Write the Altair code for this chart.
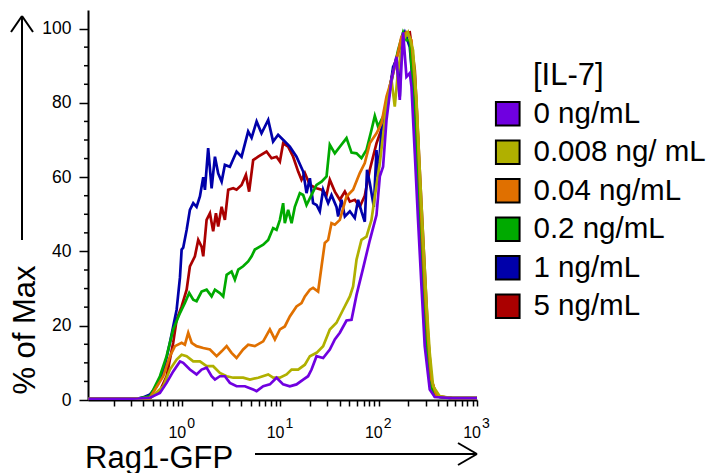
import altair as alt
import pandas as pd

SERIES = ["0 ng/mL", "0.008 ng/ mL", "0.04 ng/mL", "0.2 ng/mL", "1 ng/mL", "5 ng/mL"]
COLORS = ["#7000E0", "#B0B000", "#E07000", "#00AA00", "#0000AA", "#AA0000"]
DRAW_ORDER = ["5 ng/mL", "1 ng/mL", "0.2 ng/mL", "0.04 ng/mL", "0.008 ng/ mL", "0 ng/mL"]

# log10(Rag1-GFP) and % of max for each series
L_0 = [-0.955, -0.6, -0.45, -0.328, -0.227, -0.159, -0.092, -0.023, 0.010, 0.078, 0.146, 0.197, 0.248, 0.299, 0.333,
       0.383, 0.434, 0.485, 0.553, 0.638, 0.722, 0.757, 0.824, 0.892, 0.960, 1.027, 1.095, 1.163, 1.231, 1.281, 1.316,
       1.367, 1.434, 1.502, 1.553, 1.604, 1.672, 1.723, 1.774, 1.841, 1.909, 1.977, 2.011, 2.044, 2.079, 2.130, 2.180,
       2.214, 2.248, 2.282, 2.316, 2.333, 2.367, 2.400, 2.435, 2.468, 2.519, 2.570, 2.75, 3.0]
P_0 = [0.3, 0.3, 0.4, 0.6, 1.9, 4.6, 7.7, 10.4, 10.0, 8.2, 6.9, 8.2, 8.7, 6.4, 5.5,
       6.4, 6.4, 4.6, 3.7, 3.7, 2.8, 2.4, 3.7, 4.2, 6.0, 4.2, 3.7, 4.2, 5.5, 6.4, 8.2,
       11.8, 11.3, 13.6, 16.3, 18.1, 21.4, 21.6, 28.3, 35.5, 43.0, 49.8, 60.2, 62.8, 75.4, 86.2, 92.4,
       80.8, 99.0, 87.0, 88.0, 84.4, 66.4, 48.5, 30.6, 14.5, 2.8, 0.8, 0.5, 0.5]

L_0008 = [-0.955, -0.6, -0.45, -0.328, -0.193, -0.125, -0.057, -0.006, 0.045, 0.112, 0.180, 0.248, 0.315, 0.383,
          0.452, 0.519, 0.620, 0.689, 0.773, 0.875, 0.925, 0.994, 1.062, 1.113, 1.180, 1.248, 1.299, 1.367, 1.434,
          1.502, 1.570, 1.637, 1.706, 1.739, 1.774, 1.824, 1.875, 1.926, 1.960, 2.011, 2.079, 2.130, 2.163, 2.197,
          2.248, 2.298, 2.349, 2.384, 2.417, 2.451, 2.486, 2.519, 2.553, 2.621, 2.75, 3.0]
P_0008 = [0.3, 0.3, 0.4, 0.5, 3.7, 8.2, 10.9, 12.2, 11.8, 10.4, 10.4, 9.1, 9.1, 7.3,
          6.4, 6.0, 6.0, 5.5, 6.0, 6.9, 6.0, 6.0, 6.9, 8.2, 8.2, 9.5, 11.8, 12.7, 14.5,
          19.0, 20.8, 24.3, 27.9, 30.6, 37.8, 43.1, 44.0, 48.5, 54.8, 63.8, 79.0, 86.2, 79.0, 88.8,
          96.9, 99.0, 94.2, 80.8, 62.0, 44.0, 26.1, 12.7, 3.7, 1.0, 0.5, 0.5]

L_004 = [-0.955, -0.6, -0.45, -0.328, -0.193, -0.125, -0.074, -0.006, 0.027, 0.061, 0.096, 0.146, 0.214, 0.282,
         0.350, 0.401, 0.452, 0.502, 0.553, 0.620, 0.671, 0.739, 0.824, 0.892, 0.943, 0.994, 1.044, 1.095, 1.163,
         1.214, 1.248, 1.299, 1.332, 1.383, 1.418, 1.451, 1.485, 1.519, 1.553, 1.604, 1.672, 1.739, 1.807, 1.858,
         1.909, 1.977, 2.028, 2.079, 2.130, 2.180, 2.231, 2.282, 2.333, 2.384, 2.435, 2.468, 2.502, 2.536, 2.590,
         2.75, 3.0]
P_004 = [0.3, 0.3, 0.4, 0.6, 6.4, 11.8, 14.5, 15.4, 14.9, 18.1, 15.4, 14.5, 14.0, 13.6,
         11.8, 13.1, 14.5, 12.7, 11.3, 13.6, 14.9, 14.5, 15.8, 19.0, 16.3, 19.0, 19.8, 22.5, 25.2,
         26.1, 27.9, 29.7, 30.2, 29.2, 36.0, 42.3, 43.1, 47.6, 47.2, 48.5, 54.8, 56.6, 61.1, 63.8,
         69.1, 71.8, 74.5, 81.7, 86.2, 91.5, 97.8, 99.0, 96.9, 79.9, 48.5, 30.6, 16.3, 5.5, 1.0,
         0.5, 0.5]

L_02 = [-0.955, -0.6, -0.45, -0.328, -0.227, -0.159, -0.092, -0.023, 0.027, 0.071, 0.112, 0.146, 0.197, 0.248,
        0.299, 0.333, 0.383, 0.417, 0.452, 0.502, 0.536, 0.570, 0.620, 0.671, 0.706, 0.739, 0.790, 0.824, 0.875,
        0.925, 0.960, 0.994, 1.027, 1.044, 1.078, 1.113, 1.146, 1.197, 1.231, 1.265, 1.316, 1.367, 1.418, 1.469,
        1.502, 1.553, 1.604, 1.672, 1.723, 1.774, 1.824, 1.875, 1.926, 1.960, 1.993, 2.044, 2.095, 2.146, 2.197,
        2.248, 2.282, 2.316, 2.349, 2.384, 2.417, 2.451, 2.486, 2.519, 2.570, 2.75, 3.0]
P_02 = [0.3, 0.3, 0.4, 1.0, 6.4, 11.8, 19.0, 23.4, 26.1, 28.8, 27.0, 26.6, 29.2, 29.7,
        27.9, 29.7, 28.8, 27.9, 33.7, 34.6, 32.4, 35.1, 36.0, 37.3, 38.7, 40.5, 41.3, 41.8, 43.1,
        46.3, 45.8, 48.5, 53.0, 47.6, 51.2, 47.6, 52.0, 55.7, 55.2, 52.5, 55.2, 57.9, 58.8, 60.2,
        68.7, 66.4, 68.2, 70.5, 66.6, 66.4, 65.1, 67.3, 72.7, 76.5, 73.6, 76.3, 80.8, 88.0, 94.2,
        99.0, 96.9, 96.9, 84.0, 66.0, 48.0, 30.0, 14.0, 5.0, 1.0, 0.5, 0.5]

L_1 = [-0.955, -0.6, -0.45, -0.400, -0.328, -0.260, -0.193, -0.125, -0.092, -0.057, -0.023, -0.006, 0.010, 0.045,
       0.078, 0.112, 0.146, 0.180, 0.214, 0.231, 0.264, 0.299, 0.333, 0.366, 0.401, 0.434, 0.485, 0.553, 0.604,
       0.671, 0.706, 0.757, 0.807, 0.875, 0.925, 0.976, 1.044, 1.095, 1.163, 1.231, 1.265, 1.299, 1.332, 1.367,
       1.400, 1.434, 1.485, 1.519, 1.570, 1.587, 1.621, 1.655, 1.706, 1.756, 1.790, 1.824, 1.858, 1.881, 1.909,
       1.950, 1.977, 1.993, 2.028, 2.079, 2.146, 2.180, 2.214, 2.231, 2.265, 2.316, 2.349, 2.384, 2.417, 2.451,
       2.486, 2.519, 2.570, 2.621, 2.75, 3.0]
P_1 = [0.3, 0.3, 0.4, 0.7, 1.5, 3.7, 7.4, 15.5, 19.8, 24.3, 33.0, 40.5, 41.0, 45.8,
       51.2, 53.0, 52.0, 54.8, 60.0, 56.6, 67.8, 57.0, 65.5, 61.0, 58.8, 63.3, 62.8, 66.9, 65.5,
       72.3, 70.6, 75.0, 71.8, 75.4, 69.6, 71.4, 69.6, 68.2, 65.5, 61.5, 55.7, 59.7, 53.0, 52.5,
       50.8, 56.6, 53.0, 55.2, 52.0, 49.4, 53.9, 49.4, 50.8, 49.0, 53.9, 50.8, 48.0, 62.0, 58.4,
       52.0, 67.3, 60.0, 72.7, 77.2, 89.7, 91.5, 81.7, 96.9, 99.0, 95.0, 84.4, 66.4, 48.5, 30.6,
       14.5, 5.5, 1.5, 0.8, 0.5, 0.5]

L_5 = [-0.955, -0.6, -0.45, -0.328, -0.227, -0.159, -0.092, -0.057, -0.006, 0.045, 0.078, 0.129, 0.163, 0.197,
       0.214, 0.248, 0.282, 0.315, 0.343, 0.366, 0.401, 0.434, 0.468, 0.519, 0.553, 0.604, 0.648, 0.681, 0.722,
       0.773, 0.858, 0.909, 0.960, 0.994, 1.027, 1.078, 1.129, 1.180, 1.214, 1.248, 1.299, 1.367, 1.418, 1.469,
       1.502, 1.553, 1.604, 1.655, 1.706, 1.756, 1.807, 1.858, 1.909, 1.977, 2.061, 2.112, 2.163, 2.214, 2.265,
       2.316, 2.367, 2.417, 2.468, 2.502, 2.536, 2.590, 2.75, 3.0]
P_5 = [0.3, 0.3, 0.4, 0.5, 2.5, 6.4, 15.4, 21.6, 25.2, 29.7, 36.0, 38.7, 43.1, 41.3,
       38.7, 48.5, 50.3, 45.4, 50.3, 46.7, 52.0, 48.5, 56.6, 57.0, 56.6, 57.9, 60.6, 56.1, 64.6,
       65.5, 66.9, 65.1, 65.5, 64.2, 69.1, 68.2, 65.5, 61.5, 59.3, 61.1, 57.9, 57.0, 56.6, 55.2,
       59.3, 56.1, 53.9, 56.1, 53.4, 53.9, 52.0, 55.0, 62.0, 69.1, 75.4, 84.4, 90.6, 95.0, 98.7,
       99.0, 88.8, 62.0, 35.1, 17.2, 5.5, 1.0, 0.5, 0.5]

Y_MAJOR = [0, 20, 40, 60, 80, 100]
Y_MINOR = [5, 10, 15, 25, 30, 35, 45, 50, 55, 65, 70, 75, 85, 90, 95]
X_TICKS = [0.2, 0.3, 0.4, 0.5, 0.6, 0.7, 0.8, 0.9, 1, 2, 3, 4, 5, 6, 7, 8, 9, 10, 20, 30, 40, 50, 60, 70, 80, 90,
           100, 200, 300, 400, 500, 600, 700, 800, 900, 1000]
DECADES = [1, 10, 100, 1000]
EXPONENTS = ["0", "1", "2", "3"]

curves = {
    "0 ng/mL": (L_0, P_0),
    "0.008 ng/ mL": (L_0008, P_0008),
    "0.04 ng/mL": (L_004, P_004),
    "0.2 ng/mL": (L_02, P_02),
    "1 ng/mL": (L_1, P_1),
    "5 ng/mL": (L_5, P_5),
}
color_of = dict(zip(SERIES, COLORS))

frames = []
for name in DRAW_ORDER:
    L, P = curves[name]
    d = pd.DataFrame({"logx": L, "pct": P})
    d["gfp"] = 10 ** d["logx"]
    d["series"] = name
    d["hex"] = color_of[name]
    frames.append(d)
df = pd.concat(frames, ignore_index=True)

FONT = "Liberation Sans"
XMIN = 10 ** -0.959

x_scale = alt.Scale(type="log", domain=[XMIN, 1000], nice=False)
y_scale = alt.Scale(domain=[0, 105], nice=False, zero=True)
col_scale = alt.Scale(domain=SERIES, range=COLORS)

x_axis = alt.Axis(values=X_TICKS, labels=False, title=None, grid=False, tickSize=6,
                  tickWidth=1.5, domainWidth=2, domainColor="black", tickColor="black")
y_axis = alt.Axis(values=Y_MAJOR, title=None, grid=False, tickSize=9,
                  tickWidth=1.5, domainWidth=2, domainColor="black", tickColor="black",
                  labelFont=FONT, labelFontSize=17.5, labelColor="black", labelPadding=8)

lines = alt.Chart(df).mark_line(strokeWidth=2.7, clip=True).encode(
    x=alt.X("gfp:Q", scale=x_scale, axis=x_axis),
    y=alt.Y("pct:Q", scale=y_scale, axis=y_axis),
    color=alt.Color("hex:N", scale=None),
    detail="series:N",
)

minor = alt.Chart(pd.DataFrame({"m": Y_MINOR})).mark_rule(color="black", strokeWidth=1.5).encode(
    y=alt.Y("m:Q", scale=y_scale, axis=y_axis), x=alt.value(-4), x2=alt.value(0))

legend_layer = alt.Chart(pd.DataFrame({"series": SERIES})).mark_point(
    shape="square", filled=True, opacity=1, stroke="black", strokeWidth=2
).encode(
    x=alt.value(-3000), y=alt.value(-3000),
    fill=alt.Fill("series:N", scale=col_scale,
                  legend=alt.Legend(orient="none", legendX=405, legendY=89, title=None,
                                    symbolType="square", symbolSize=560, symbolStrokeWidth=2,
                                    symbolStrokeColor="black", symbolOpacity=1,
                                    labelFont=FONT, labelFontSize=29.5, labelColor="black",
                                    labelOffset=11, rowPadding=5.5, padding=0, labelLimit=400)),
)

dec_df = pd.DataFrame({"v": DECADES, "e": EXPONENTS})
ten = alt.Chart(dec_df).mark_text(align="right", baseline="alphabetic", dx=4, font=FONT, fontSize=16,
                                  color="black").encode(
    x=alt.X("v:Q", scale=x_scale, axis=x_axis), y=alt.value(427.5), text=alt.value("10"))
expo = alt.Chart(dec_df).mark_text(align="left", baseline="alphabetic", dx=5, font=FONT, fontSize=14,
                                   color="black").encode(
    x=alt.X("v:Q", scale=x_scale, axis=x_axis), y=alt.value(417.7), text="e:N")

one = pd.DataFrame({"k": [0]})


def label(txt, x, y, size, angle=0, align="left", baseline="alphabetic"):
    return alt.Chart(one).mark_text(text=txt, font=FONT, fontSize=size, color="black", angle=angle,
                                    align=align, baseline=baseline).encode(x=alt.value(x), y=alt.value(y))


def seg(x1, y1, x2, y2):
    return alt.Chart(one).mark_rule(color="black", strokeWidth=2).encode(
        x=alt.value(x1), y=alt.value(y1), x2=alt.value(x2), y2=alt.value(y2))


texts = [
    label("Rag1-GFP", -3, 458, 31),
    label("% of Max", -62, 320, 31, angle=270, align="center", baseline="middle"),
    label("[IL-7]", 445, 75, 31),
]
arrows = [
    seg(-66, 230, -66, 6), seg(-77, 22, -66, 6), seg(-55, 22, -66, 6),
    seg(167, 444, 389, 444), seg(370, 433, 389, 444), seg(370, 455, 389, 444),
]

chart = alt.layer(legend_layer, lines, minor, ten, expo, *texts, *arrows).properties(
    width=389, height=390,
    padding={"left": 80, "top": 2, "right": 229, "bottom": 75},
    autosize=alt.AutoSizeParams(type="none"),
    background="white",
).configure_view(stroke=None)

chart.save("out.html", embed_options={"renderer": "svg", "actions": False})
